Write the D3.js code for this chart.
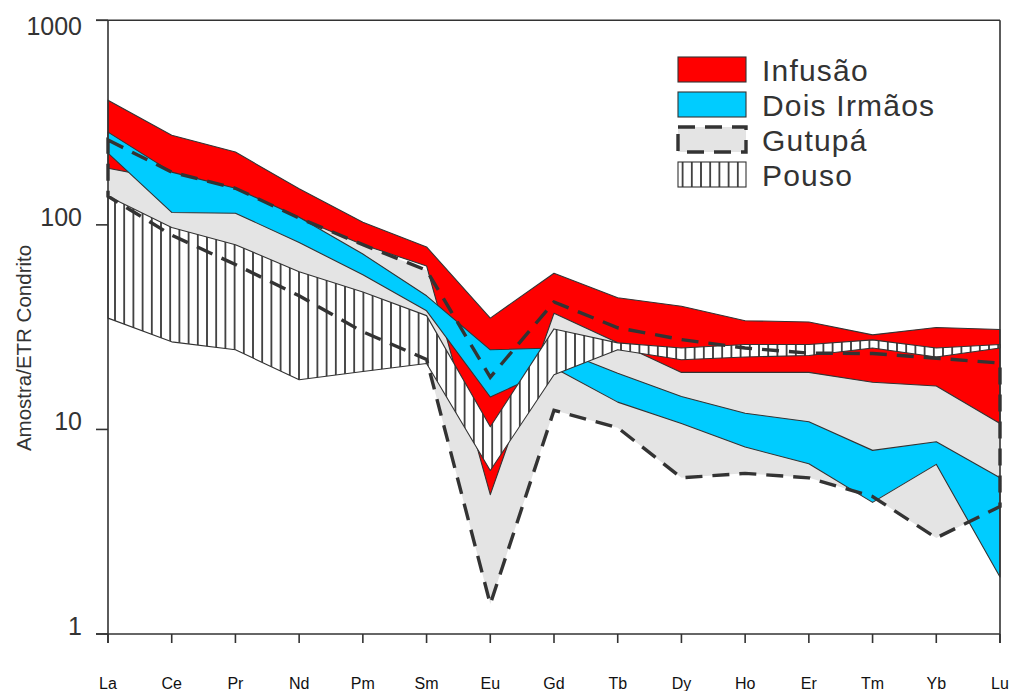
<!DOCTYPE html>
<html>
<head>
<meta charset="utf-8">
<script src="https://cdn.jsdelivr.net/npm/d3@7"></script>
<style>
  html, body { margin: 0; padding: 0; background: #fff; }
  svg { display: block; font-family: "Liberation Sans", Arial, Helvetica, sans-serif; }
</style>
</head>
<body>
<svg id="chart" width="1018" height="691"></svg>
<script>
// Chondrite-normalised REE envelopes for four rock groups
const elements = ["La","Ce","Pr","Nd","Pm","Sm","Eu","Gd","Tb","Dy","Ho","Er","Tm","Yb","Lu"];

const infusaoMax     = [407, 274, 227, 150, 103, 78, 35, 58, 44, 40, 34, 33.5, 29, 31.5, 30.8];
const infusaoMin     = [189, 165, 140, 108, 80, 63, 4.8, 37, 26.5, 19, 19, 19, 17, 16.3, 10.7];
const doisIrmaosMax  = [284, 181, 151, 109, 72, 45, 24.5, 25, 18.8, 14.5, 12, 10.9, 7.9, 8.7, 5.8];
const doisIrmaosMin  = [224, 115, 114, 82, 57, 38, 14.4, 20, 13.6, 10.7, 8.2, 6.8, 4.4, 6.75, 1.9];
const gutupaMax      = [260, 181, 151, 108, 80, 60, 18, 42, 31.4, 27.5, 25, 23.6, 23.5, 22.3, 21.1];
const gutupaMin      = [138, 89, 64, 45, 30, 22, 1.4, 12.4, 10.2, 5.8, 6.1, 5.8, 4.7, 2.95, 4.2];
const pousoMax       = [138, 97, 80, 59, 47, 36, 10.3, 31, 26.5, 25, 26, 26, 27.4, 25, 26];
const pousoMin       = [35, 26.8, 24.5, 17.5, 19.2, 21, 6.3, 18.5, 24.5, 21.9, 22.6, 23, 25, 22.6, 25];

const yTicks = [1, 10, 100, 1000];
const legendLabels = ["Infusão", "Dois Irmãos", "Gutupá", "Pouso"];

const svg = d3.select("#chart");
const ink = "#333";

const x = d3.scalePoint().domain(elements).range([108, 1000]);
const y = d3.scaleLog().domain([1, 1000]).range([634, 20.3]);

// vertical hatching used for the Pouso field
const defs = svg.append("defs");
const hatch = defs.append("pattern")
  .attr("id", "hatch")
  .attr("patternUnits", "userSpaceOnUse")
  .attr("width", 9.2).attr("height", 20);
hatch.append("rect").attr("width", 9.2).attr("height", 20).attr("fill", "#fff");
hatch.append("line")
  .attr("x1", 4.6).attr("x2", 4.6).attr("y1", 0).attr("y2", 20)
  .attr("stroke", ink).attr("stroke-width", 1.7);

// closed envelope: upper curve left→right, lower curve right→left
function envelope(upper, lower) {
  const pts = upper.map((v, i) => [x(elements[i]), y(v)]);
  for (let i = lower.length - 1; i >= 0; i--) pts.push([x(elements[i]), y(lower[i])]);
  return d3.line()(pts) + "Z";
}

const plot = svg.append("g");

// Gutupá fill (bottom layer)
plot.append("path")
  .attr("d", envelope(gutupaMax, gutupaMin))
  .attr("fill", "#e4e4e4").attr("stroke", "none");

// Infusão
plot.append("path")
  .attr("d", envelope(infusaoMax, infusaoMin))
  .attr("fill", "#ff0000").attr("stroke", ink).attr("stroke-width", 1.1)
  .attr("stroke-linejoin", "round");

// Dois Irmãos
plot.append("path")
  .attr("d", envelope(doisIrmaosMax, doisIrmaosMin))
  .attr("fill", "#00ccff").attr("stroke", ink).attr("stroke-width", 1.1)
  .attr("stroke-linejoin", "round");

// Pouso
plot.append("path")
  .attr("d", envelope(pousoMax, pousoMin))
  .attr("fill", "url(#hatch)").attr("stroke", ink).attr("stroke-width", 1.1)
  .attr("stroke-linejoin", "round");

// Gutupá dashed outline on top
plot.append("path")
  .attr("d", envelope(gutupaMax, gutupaMin))
  .attr("fill", "none").attr("stroke", ink).attr("stroke-width", 3.4)
  .attr("stroke-dasharray", "17,10");

// frame and axes
const axisG = svg.append("g").attr("stroke", ink).attr("stroke-width", 1.6).attr("fill", "none");
axisG.append("line").attr("x1", 96).attr("x2", 1000).attr("y1", y(1000)).attr("y2", y(1000));
axisG.append("line").attr("x1", 96).attr("x2", 1000).attr("y1", y(1)).attr("y2", y(1));
axisG.append("line").attr("x1", x("La")).attr("x2", x("La")).attr("y1", y(1000)).attr("y2", y(1) + 9);
axisG.append("line").attr("x1", x("Lu")).attr("x2", x("Lu")).attr("y1", y(1000)).attr("y2", y(1) + 9);

// y ticks and labels
yTicks.forEach(t => {
  axisG.append("line").attr("x1", 96).attr("x2", 108).attr("y1", y(t)).attr("y2", y(t));
});
svg.append("g").selectAll("text").data(yTicks).join("text")
  .attr("x", 82)
  .attr("y", d => Math.max(y(d) + 1, 35))
  .attr("text-anchor", "end")
  .attr("font-size", 25)
  .attr("fill", ink)
  .text(d => d);

// x ticks and labels
elements.forEach(e => {
  axisG.append("line").attr("x1", x(e)).attr("x2", x(e)).attr("y1", y(1)).attr("y2", y(1) + 9);
});
svg.append("g").selectAll("text").data(elements).join("text")
  .attr("x", d => x(d))
  .attr("y", 689)
  .attr("text-anchor", "middle")
  .attr("font-size", 16)
  .attr("fill", "#111")
  .text(d => d);

// y axis title
svg.append("text")
  .attr("transform", "translate(31,348) rotate(-90)")
  .attr("text-anchor", "middle")
  .attr("font-size", 20.5)
  .attr("fill", ink)
  .text("Amostra/ETR Condrito");

// legend
const legend = svg.append("g").attr("transform", "translate(678,57)");
const rowH = 35;
const swatches = [
  { fill: "#ff0000", stroke: ink, width: 1.1, dash: null },
  { fill: "#00ccff", stroke: ink, width: 1.1, dash: null },
  { fill: "#e4e4e4", stroke: ink, width: 3.4, dash: "17,10" },
  { fill: "url(#hatch)", stroke: ink, width: 1.1, dash: null }
];
legendLabels.forEach((label, i) => {
  const g = legend.append("g").attr("transform", `translate(0,${i * rowH})`);
  g.append("rect")
    .attr("width", 68).attr("height", 25)
    .attr("fill", swatches[i].fill)
    .attr("stroke", swatches[i].stroke)
    .attr("stroke-width", swatches[i].width)
    .attr("stroke-dasharray", swatches[i].dash);
  g.append("text")
    .attr("x", 84).attr("y", 24)
    .attr("font-size", 30)
    .attr("letter-spacing", 1.2)
    .attr("fill", ink)
    .text(label);
});
</script>
</body>
</html>
